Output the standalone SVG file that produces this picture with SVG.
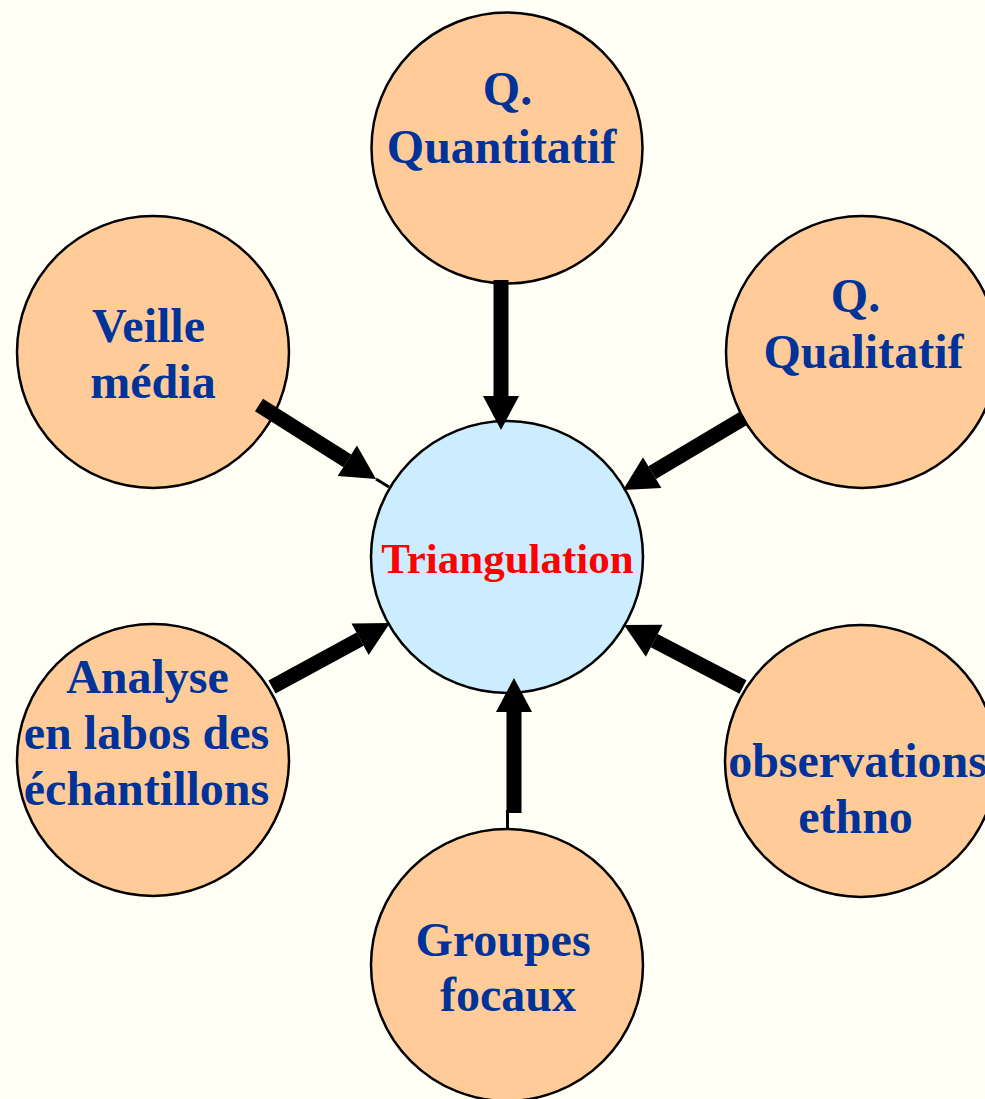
<svg xmlns="http://www.w3.org/2000/svg" width="985" height="1099" viewBox="0 0 985 1099">
<style>
.bg{fill:#FFFFF5}
.n{fill:#FFCC99;stroke:#000;stroke-width:2.5}
.c{fill:#CCECFF;stroke:#000;stroke-width:2.5}
.t{font-family:"Liberation Serif","Times New Roman",serif;font-weight:bold;font-size:48px;fill:#003399;text-anchor:middle}
.tr{font-family:"Liberation Serif","Times New Roman",serif;font-weight:bold;font-size:43px;fill:#FF0000;text-anchor:middle}
.sh{stroke:#000;stroke-width:15;fill:none;marker-end:url(#ah)}
.thin{stroke:#000;stroke-width:3;fill:none}
</style>
<defs>
<marker id="ah" markerUnits="userSpaceOnUse" viewBox="0 -18 34 36" refX="0" refY="0" markerWidth="34" markerHeight="36" orient="auto" overflow="visible">
<path d="M0,-18 L34,0 L0,18 z" fill="#000"/>
</marker>
</defs>
<rect class="bg" x="0" y="0" width="985" height="1099"/>
<g id="node-triangulation">
<circle class="c" cx="507" cy="557" r="136"/>
<text class="tr" x="507.5" y="573">Triangulation</text>
</g>
<g id="node-quantitatif">
<circle class="n" cx="507" cy="148" r="135.5"/>
<text class="t" x="507.5" y="105">Q.</text>
<text class="t" x="501.5" y="163">Quantitatif</text>
</g>
<g id="node-veille">
<circle class="n" cx="153" cy="352" r="136"/>
<text class="t" x="148.5" y="342">Veille</text>
<text class="t" x="153" y="398">média</text>
</g>
<g id="node-qualitatif">
<circle class="n" cx="862" cy="352" r="136"/>
<text class="t" x="855.5" y="312">Q.</text>
<text class="t" x="863.5" y="368">Qualitatif</text>
</g>
<g id="node-analyse">
<circle class="n" cx="153" cy="760" r="136"/>
<text class="t" x="147.5" y="693">Analyse</text>
<text class="t" x="146.5" y="749">en labos des</text>
<text class="t" x="146.5" y="805">échantillons</text>
</g>
<g id="node-observations">
<circle class="n" cx="861" cy="761" r="136"/>
<text class="t" x="857.5" y="777">observations</text>
<text class="t" x="855.5" y="833">ethno</text>
</g>
<g id="node-groupes">
<circle class="n" cx="507" cy="965" r="136"/>
<text class="t" x="503" y="956">Groupes</text>
<text class="t" x="508" y="1011">focaux</text>
</g>
<g id="connectors">
<line class="thin" x1="376" y1="479" x2="389" y2="487"/>
<line class="thin" x1="507.5" y1="810" x2="507.5" y2="829"/>
<line class="sh" x1="501" y1="280" x2="501" y2="396"/>
<line class="sh" x1="259" y1="405" x2="347.3" y2="460.8"/>
<line class="sh" x1="744" y1="418" x2="652.2" y2="472.6"/>
<line class="sh" x1="272" y1="687" x2="360.1" y2="639.2"/>
<line class="sh" x1="743" y1="687" x2="654.2" y2="640.7"/>
<line class="sh" x1="514" y1="813" x2="514" y2="712"/>
</g>
</svg>
